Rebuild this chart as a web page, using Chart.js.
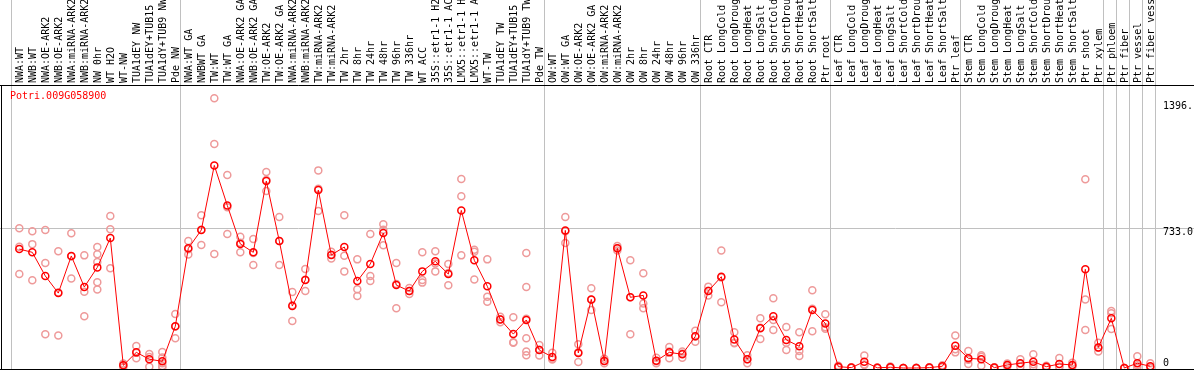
<!DOCTYPE html>
<html>
<head>
<meta charset="utf-8">
<script src="https://cdn.jsdelivr.net/npm/chart.js@4"></script>
<style>
  html, body { margin: 0; padding: 0; background: #fff; }
  #wrap { width: 1194px; height: 370px; }
</style>
</head>
<body>
<div id="wrap"><canvas id="chart"></canvas></div>
<script>
const title = 'Potri.009G058900'

const labels = [
  'NWA:WT', 'NWB:WT', 'NWA:OE-ARK2', 'NWB:OE-ARK2', 'NWA:miRNA-ARK2', 'NWB:miRNA-ARK2',
  'NW 0hr', 'WT H2O', 'WT-NW', 'TUA1dEY NW', 'TUA1dEY+TUB15 NW', 'TUA1dY+TUB9 NW', 'Pde NW',
  'NWA:WT GA', 'NWBWT GA', 'TW:WT', 'TW:WT GA', 'NWA:OE-ARK2 GA', 'NWB:OE-ARK2 GA',
  'TW:OE-ARK2', 'TW:OE-ARK2 GA', 'NWA:miRNA-ARK2 GA', 'NWB:miRNA-ARK2 GA', 'TW:miRNA-ARK2',
  'TW:miRNA-ARK2 GA', 'TW 2hr', 'TW 8hr', 'TW 24hr', 'TW 48hr', 'TW 96hr', 'TW 336hr',
  'WT ACC', '35S::etr1-1 H2O', '35S::etr1-1 ACC', 'LMX5::etr1-1 H2O', 'LMX5::etr1-1 ACC',
  'WT-TW', 'TUA1dEY TW', 'TUA1dEY+TUB15 TW', 'TUA1dY+TUB9 TW', 'Pde TW',
  'OW:WT', 'OW:WT GA', 'OW:OE-ARK2', 'OW:OE-ARK2 GA', 'OW:miRNA-ARK2', 'OW:miRNA-ARK2 GA',
  'OW 2hr', 'OW 8hr', 'OW 24hr', 'OW 48hr', 'OW 96hr', 'OW 336hr',
  'Root CTR', 'Root LongCold', 'Root LongDrought', 'Root LongHeat', 'Root LongSalt',
  'Root ShortCold', 'Root ShortDrought', 'Root ShortHeat', 'Root ShortSalt', 'Ptr root',
  'Leaf CTR', 'Leaf LongCold', 'Leaf LongDrought', 'Leaf LongHeat', 'Leaf LongSalt',
  'Leaf ShortCold', 'Leaf ShortDrought', 'Leaf ShortHeat', 'Leaf ShortSalt', 'Ptr leaf',
  'Stem CTR', 'Stem LongCold', 'Stem LongDrought', 'Stem LongHeat', 'Stem LongSalt',
  'Stem ShortCold', 'Stem ShortDrought', 'Stem ShortHeat', 'Stem ShortSalt', 'Ptr shoot',
  'Ptr xylem', 'Ptr phloem', 'Ptr fiber', 'Ptr vessel', 'Ptr fiber vessel'
]

const means = [
  624, 607, 483, 393, 588, 425, 528, 682, 14, 82, 46, 35, 219,
  628, 724, 1063, 853, 651, 607, 981, 666, 325, 462, 934, 593, 635, 456, 546, 708,
  435, 404, 507, 560, 493, 827, 565, 429, 255, 178, 252, 94,
  58, 722, 79, 360, 37, 628, 371, 381, 38, 82, 72, 166,
  404, 479, 150, 46, 208, 271, 147, 114, 304, 234,
  7, 2, 33, 1, 4, 0, 0, 2, 9, 117,
  51, 46, 2, 16, 25, 33, 7, 21, 16, 518, 108,
  261, 0, 25, 9
]

const replicates = [
  [733, 636, 493], [717, 650, 460], [724, 551, 177], [612, 171, 396], [707, 470, 587],
  [591, 400, 271], [635, 597, 556, 450, 412], [797, 728, 523], [4, 14, 24], [115, 51, 80],
  [73, 7, 58], [84, 55, 25, 10, 3], [283, 156, 218],
  [666, 595, 623], [801, 645, 726], [1415, 1175, 598], [1013, 703, 843], [689, 607, 657],
  [677, 540, 604], [1028, 929, 986], [792, 540, 666], [399, 247, 329], [519, 404, 463],
  [1037, 824, 941], [610, 575, 594], [801, 589, 507], [570, 413, 378], [703, 483, 456],
  [754, 644, 726], [551, 313, 441], [420, 388, 404], [607, 462, 448], [612, 549, 507],
  [546, 434, 499], [992, 901, 591], [610, 465, 620], [570, 374, 348], [269, 240, 256],
  [266, 135, 133], [603, 425, 259, 156, 86, 67], [121, 65, 96],
  [80, 49, 45], [792, 656, 718], [124, 31, 82], [418, 304, 358], [25, 37, 49],
  [640, 628, 616], [565, 177, 371], [497, 339, 313], [54, 25, 36], [110, 51, 86],
  [86, 54, 76], [196, 138, 165],
  [427, 380, 405], [617, 345, 475], [187, 130, 133], [67, 46, 25], [261, 152, 211],
  [366, 252, 199], [215, 94, 132], [187, 89, 63], [408, 193, 311], [282, 206, 214],
  [12, 6, 3], [4, 1, 1], [65, 16, 18], [2, 1, 0], [8, 3, 1], [0, 0, 0], [0, 1, 0],
  [4, 2, 0], [15, 8, 4], [171, 82, 98],
  [89, 21, 43], [59, 12, 67], [4, 2, 0], [24, 16, 8], [46, 7, 22], [72, 7, 20],
  [12, 6, 3], [52, 5, 6], [28, 12, 8], [990, 360, 199], [133, 86, 106],
  [299, 287, 205], [0, 0, 0], [61, 0, 14], [25, 0, 2]
]

// first column of each sample group (a gray separator goes just before it)
const groupStarts = [0, 13, 41, 53, 63, 73, 84, 85, 86, 87, 88]
const yTicks = [0, 733.0, 1396.0]
const yTickLabels = ['0', '733.0', '1396.']
const gridValue = 733.0

const monoFont = '"DejaVu Sans Mono", "Liberation Mono", monospace'

const decor = {
  id: 'decor',
  beforeDraw(chart) {
    const { ctx, chartArea, scales: { x, y } } = chart
    ctx.save()
    ctx.strokeStyle = '#c0c0c0'
    ctx.lineWidth = 1
    ctx.beginPath()
    groupStarts.forEach(g => {
      const px = Math.round(x.getPixelForValue(g - 0.65)) + 0.5
      ctx.moveTo(px, 0)
      ctx.lineTo(px, chartArea.bottom)
    })
    const py = Math.round(y.getPixelForValue(gridValue)) + 0.5
    ctx.moveTo(0, py)
    ctx.lineTo(chart.width, py)
    ctx.stroke()
    ctx.restore()
  },
  afterDraw(chart) {
    const { ctx, chartArea, scales: { y } } = chart
    ctx.save()
    ctx.fillStyle = '#000'
    ctx.fillRect(1, chartArea.top, 1, chartArea.bottom - chartArea.top)
    ctx.fillRect(0, chartArea.bottom, chart.width, 1)

    ctx.font = '10px ' + monoFont
    ctx.textAlign = 'left'
    yTicks.forEach((v, i) => {
      const py = y.getPixelForValue(v)
      if (v === 0) {
        ctx.textBaseline = 'alphabetic'
        ctx.fillText(yTickLabels[i], 1163, py - 2)
      } else {
        ctx.textBaseline = 'top'
        ctx.fillText(yTickLabels[i], 1163, py - 1)
      }
    })

    ctx.fillStyle = '#ff0000'
    ctx.textBaseline = 'top'
    ctx.fillText(title, 10, chartArea.top + 6)
    ctx.restore()
  }
}

const meanPoints = means.map((v, i) => ({ x: i, y: v }))
const repPoints = replicates.flatMap((arr, i) => arr.map(v => ({ x: i, y: v })))

new Chart(document.getElementById('chart'), {
  type: 'line',
  data: {
    datasets: [{
      label: 'mean',
      data: meanPoints,
      borderColor: '#ff0000',
      borderWidth: 1,
      pointRadius: 3.5,
      pointBorderWidth: 1.5,
      pointBorderColor: '#ff0000',
      pointBackgroundColor: 'rgba(0,0,0,0)',
      tension: 0,
      clip: false
    }, {
      label: 'replicates',
      data: repPoints,
      showLine: false,
      pointRadius: 3.5,
      pointBorderWidth: 1.5,
      pointBorderColor: '#ee9a9a',
      pointBackgroundColor: 'rgba(0,0,0,0)',
      clip: false
    }]
  },
  options: {
    animation: false,
    responsive: true,
    maintainAspectRatio: false,
    layout: { autoPadding: false, padding: { bottom: 1 } },
    plugins: {
      legend: { display: false },
      tooltip: { enabled: false }
    },
    scales: {
      x: {
        type: 'linear',
        position: 'top',
        min: -1.485,
        max: 90.36,
        afterBuildTicks: s => { s.ticks = labels.map((l, i) => ({ value: i })) },
        afterFit: s => {
          s.height = 85
          s.paddingLeft = 0
          s.paddingRight = 0
        },
        grid: { display: false, drawTicks: false },
        border: { display: true, color: '#000', width: 1 },
        ticks: {
          autoSkip: false,
          minRotation: 90,
          maxRotation: 90,
          padding: 2,
          labelOffset: 13,
          color: '#000',
          font: { family: monoFont, size: 10 },
          callback: v => labels[v]
        }
      },
      y: {
        type: 'linear',
        display: false,
        min: -5.25,
        max: 1485
      }
    }
  },
  plugins: [decor]
})
</script>
</body>
</html>
